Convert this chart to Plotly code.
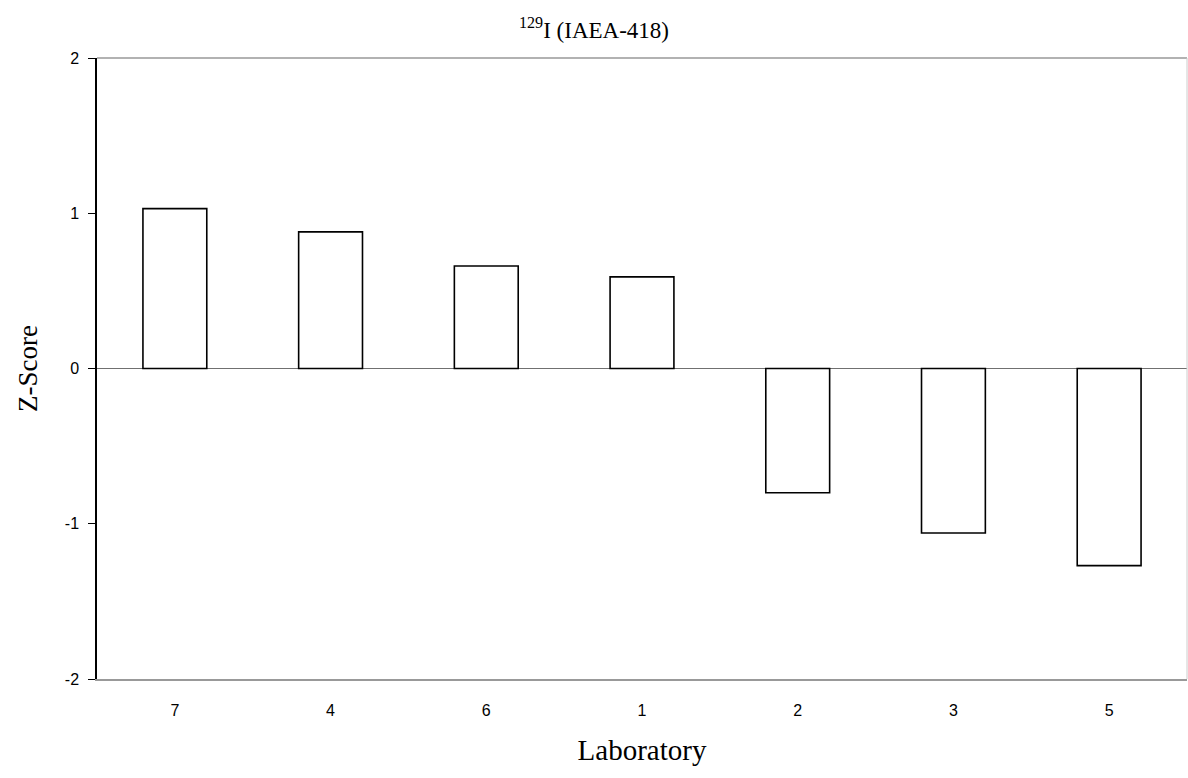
import plotly.graph_objects as go

labs = ["7", "4", "6", "1", "2", "3", "5"]
zscores = [1.03, 0.88, 0.66, 0.59, -0.80, -1.06, -1.27]
yticks = [-2, -1, 0, 1, 2]

fig = go.Figure()
fig.add_trace(go.Bar(
    x=labs, y=zscores,
    marker=dict(color="white", line=dict(color="black", width=1.6)),
    showlegend=False,
))

fig.update_layout(
    width=1188, height=778,
    margin=dict(l=97, r=1, t=58, b=99),
    paper_bgcolor="white", plot_bgcolor="white",
    bargap=0.59,
    title=dict(text="<sup>129</sup>I (IAEA-418)", x=0.5, xanchor="center", y=0.962, yanchor="middle",
               font=dict(family="Liberation Serif", size=23, color="black")),
    xaxis=dict(
        type="category", range=[-0.5, 6.5],
        showgrid=False, showline=True, linecolor="#999999", linewidth=1.5,
        ticks="outside", ticklen=16, tickcolor="rgba(0,0,0,0)",
        tickfont=dict(family="Liberation Sans", size=16, color="black"),
        title=dict(text="Laboratory", font=dict(family="Liberation Serif", size=29, color="black"), standoff=22),
    ),
    yaxis=dict(
        range=[-2, 2], tickvals=yticks, ticktext=[str(v) for v in yticks],
        showgrid=False, showline=True, linecolor="black", linewidth=1.5,
        ticks="outside", ticklen=7, tickcolor="black", tickwidth=1.2,
        ticklabelstandoff=6,
        zeroline=True, zerolinecolor="#707070", zerolinewidth=1.2,
        tickfont=dict(family="Liberation Sans", size=16, color="black"),
        title=dict(text="Z-Score", font=dict(family="Liberation Serif", size=27, color="black"), standoff=19),
    ),
    shapes=[
        dict(type="line", xref="paper", yref="paper", x0=0, x1=1, y0=1, y1=1,
             line=dict(color="#999999", width=1.5)),
        dict(type="line", xref="paper", yref="paper", x0=1, x1=1, y0=0, y1=1,
             line=dict(color="#cccccc", width=1)),
    ],
)

fig.write_html("out.html", config={"displayModeBar": False},
               post_script="document.body.style.margin='0';document.body.style.overflow='hidden';")
